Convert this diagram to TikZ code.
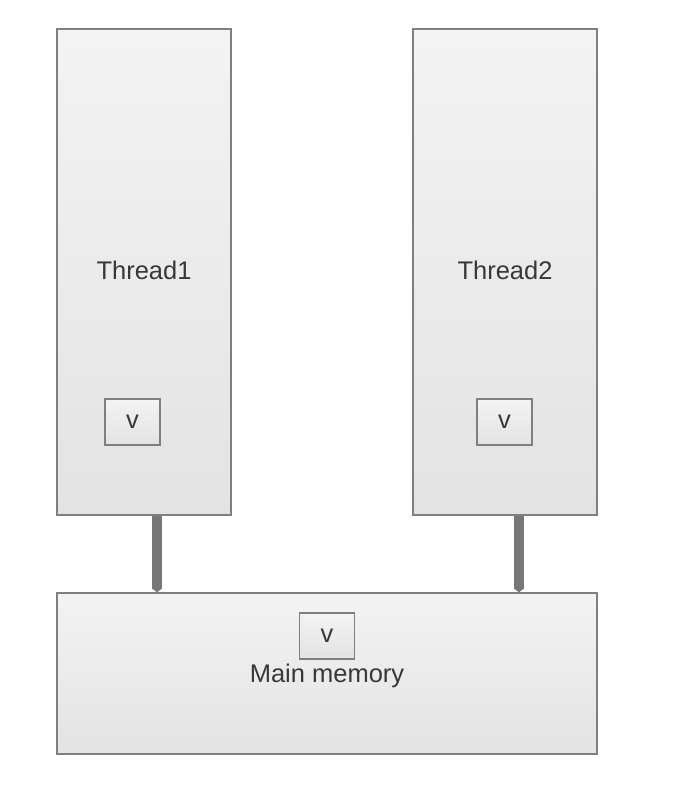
\documentclass[tikz,border=0pt]{standalone}
\usepackage{fontspec}
\setmainfont{Liberation Sans}
\usetikzlibrary{arrows.meta}
\definecolor{boxline}{HTML}{7F7F7F}
\definecolor{fillhi}{HTML}{F3F3F3}
\definecolor{filllo}{HTML}{E3E3E3}
\definecolor{labelgray}{HTML}{383838}
\definecolor{linkgray}{HTML}{777777}

\begin{document}
\begin{tikzpicture}[x=1pt,y=-1pt,
    every node/.style={draw=boxline,line width=1.3pt,text=labelgray,
      top color=fillhi,bottom color=filllo,inner sep=0pt,
      font=\fontsize{25.5}{30}\selectfont},
    varbox/.style={minimum width=55pt,minimum height=46pt},
    link/.style={draw=linkgray,line width=10pt,
      -{Triangle[length=4pt,width=10pt]}}]

    \useasboundingbox (0,0) rectangle (676,786);

    % Threads
    \node[minimum width=174pt,minimum height=486pt] (t1) at (144,272)
      {\smash{\raisebox{-7pt}{Thread1}}};
    \node[minimum width=184pt,minimum height=486pt] (t2) at (505,272)
      {\smash{\raisebox{-7pt}{Thread2}}};

    % Main memory
    \node[minimum width=540pt,minimum height=161pt] (mem) at (327,673.5)
      {\smash{\raisebox{-9pt}{Main memory}}};

    % Copies of v
    \node[varbox] (v1) at (132.5,422) {v};
    \node[varbox] (v2) at (504.5,422) {v};
    \node[varbox] (vm) at (327,636) {v};

    % Links to main memory
    \draw[link] ([xshift=13pt]t1.south) -- ([xshift=13pt]t1.south |- mem.north);
    \draw[link] ([xshift=14pt]t2.south) -- ([xshift=14pt]t2.south |- mem.north);

\end{tikzpicture}
\end{document}
